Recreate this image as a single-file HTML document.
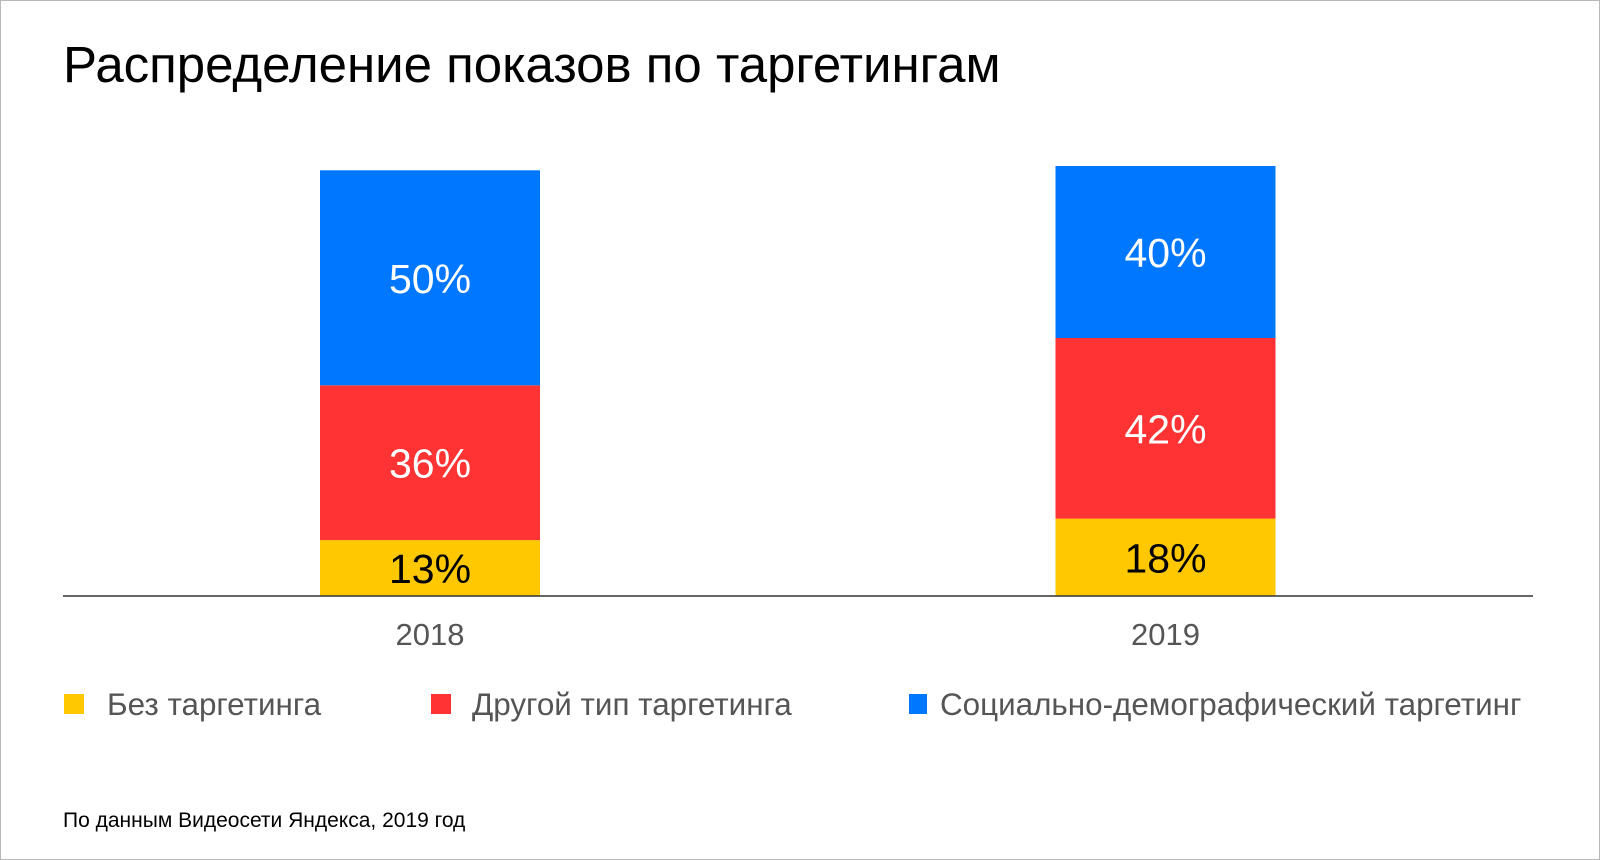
<!DOCTYPE html>
<html><head><meta charset="utf-8"><style>
html,body{margin:0;padding:0;background:#fff;}
body{width:1600px;height:860px;position:relative;overflow:hidden;font-family:"Liberation Sans",Arial,sans-serif;}
#frame{position:absolute;left:0;top:0;width:1598px;height:858px;border:1px solid #b8b8b8;}
</style></head><body>
<div id="frame"></div>
<svg id="chart" width="1600" height="860" style="position:absolute;left:0;top:0">
<text x="63" y="82" font-size="51" fill="#000">Распределение показов по таргетингам</text>
<g id="bars"></g>
<line x1="63" y1="596" x2="1533" y2="596" stroke="#333" stroke-width="1.5"/>
<g>
<rect x="64" y="694" width="20" height="20" fill="#ffc800"/>
<text x="107" y="715" font-size="31.4" fill="#555">Без таргетинга</text>
<rect x="431" y="694" width="20" height="20" fill="#ff3333"/>
<text x="472" y="715" font-size="31.4" fill="#555">Другой тип таргетинга</text>
<rect x="909" y="694" width="18" height="20" fill="#0077ff"/>
<text x="940" y="715" font-size="31.4" fill="#555">Социально-демографический таргетинг</text>
</g>
<text x="63" y="827" font-size="21" fill="#000">По данным Видеосети Яндекса, 2019 год</text>
</svg>
<script>
const categories = ["2018", "2019"];
const noTargeting = [13, 18];
const otherTargeting = [36, 42];
const socdemTargeting = [50, 40];
const seriesColors = ["#ffc800", "#ff3333", "#0077ff"];
const seriesNames = ["none", "other", "socdem"];

const baseY = 596, pxPer = 4.3;
const barCenters = [430, 1165.5], barW = 220;
function y(v){ return baseY - v * pxPer; }
const ns = "http://www.w3.org/2000/svg";
const g = document.getElementById("bars");
const series = [noTargeting, otherTargeting, socdemTargeting];
categories.forEach((cat, i) => {
  let cum = 0;
  series.forEach((s, k) => {
    const v = s[i];
    const top = y(cum + v), bot = y(cum);
    const r = document.createElementNS(ns, "rect");
    r.setAttribute("x", barCenters[i] - barW / 2);
    r.setAttribute("y", top);
    r.setAttribute("width", barW);
    r.setAttribute("height", bot - top);
    r.setAttribute("fill", seriesColors[k]);
    
    
    g.appendChild(r);
    const t = document.createElementNS(ns, "text");
    t.setAttribute("x", barCenters[i]);
    t.setAttribute("y", (top + bot) / 2 + 15);
    t.setAttribute("text-anchor", "middle");
    t.setAttribute("font-size", "41");
    t.setAttribute("fill", k === 0 ? "#000" : "#fff");
    t.textContent = v + "%";
    
    
    g.appendChild(t);
    cum += v;
  });
  const lab = document.createElementNS(ns, "text");
  lab.setAttribute("x", barCenters[i]);
  lab.setAttribute("y", 645);
  lab.setAttribute("text-anchor", "middle");
  lab.setAttribute("font-size", "31");
  lab.setAttribute("fill", "#555");
  lab.textContent = cat;
  
  
  g.appendChild(lab);
});
</script>
</body></html>
